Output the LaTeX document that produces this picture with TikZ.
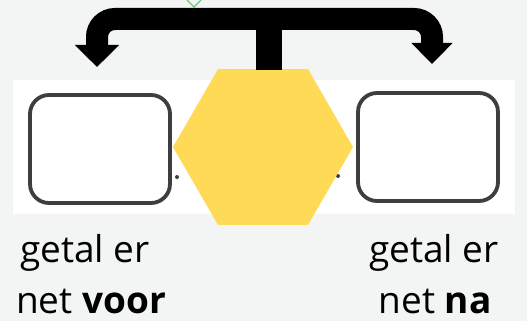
\documentclass[tikz,border=0pt]{standalone}
\usepackage{fontspec}
\setmainfont{Open Sans}
\usetikzlibrary{arrows.meta,shapes.geometric}
\definecolor{bgcol}{RGB}{243,245,244}
\definecolor{hexcol}{RGB}{255,218,87}
\definecolor{boxcol}{RGB}{62,62,62}
\definecolor{chevcol}{RGB}{110,200,130}
\tikzset{
  band/.style={fill=white,draw=none},
  hexnode/.style={regular polygon,regular polygon sides=6,minimum size=180pt,inner sep=0pt,fill=hexcol,draw=none},
  slotbox/.style={draw=boxcol,line width=3.8pt,rounded corners=19pt,fill=white,minimum width=140pt,minimum height=108pt,inner sep=0pt},
  bracketline/.style={line width=22pt,line cap=butt,rounded corners=18pt},
  labeltext/.style={font=\fontsize{37}{44}\selectfont,text=black,inner sep=0pt,anchor=base},
  smalldot/.style={fill=boxcol,draw=none}
}
\begin{document}
\begin{tikzpicture}[x=1pt,y=-1pt]
\useasboundingbox (0,0) rectangle (527,321);
\fill[bgcol] (0,0) rectangle (527,321);
% white band
\fill[band] (13,80) rectangle (515,214);
% boxes
\node[slotbox] (lbox) at (100,149) {};
\node[slotbox] (rbox) at (428,147) {};
% small dots
\fill[smalldot] (177,177) circle (2pt);
\fill[smalldot] (338,176) circle (2pt);
% hexagon
\node[hexnode] (hex) at (263,147) {};
% green chevron
\draw[chevcol,line width=1.4pt] (186,-1) -- (194,7) -- (202,-1);
% bracket arrows
\coordinate (stemtop) at (269,19);
\coordinate (stembot) at (269,70);
\coordinate (ltip) at (97,67);
\coordinate (rtip) at (432,64);
\draw[line width=26pt] (stembot) -- (stemtop);
\draw[bracketline,-{Triangle[length=22pt,width=43pt]}] (stemtop) -- (97,19) -- (ltip);
\draw[bracketline,-{Triangle[length=21pt,width=40pt]}] (stemtop) -- (432,19) -- (rtip);
% labels
\node[labeltext] (l1) at (85,262) {getal er};
\node[labeltext] (l2) at (91,313) {net \textbf{voor}};
\node[labeltext] (r1) at (434,262) {getal er};
\node[labeltext] (r2) at (435,313) {net \textbf{na}};
\end{tikzpicture}
\end{document}
